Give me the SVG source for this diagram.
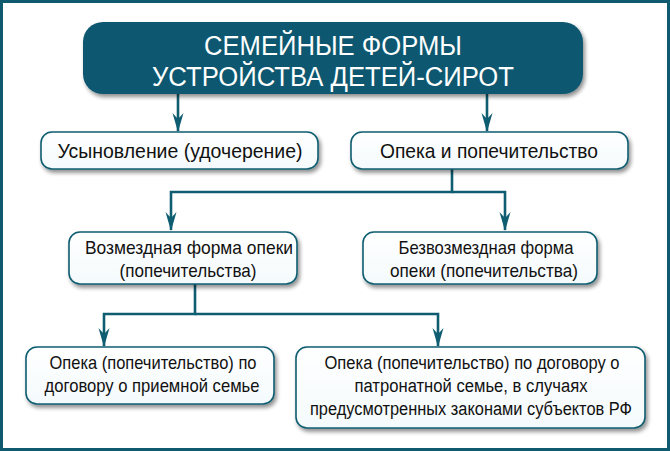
<svg xmlns="http://www.w3.org/2000/svg" width="670" height="451" viewBox="0 0 670 451">
<defs>
<filter id="sh" x="-10%" y="-20%" width="130%" height="150%">
<feGaussianBlur in="SourceAlpha" stdDeviation="2"/>
<feOffset dx="2" dy="3" result="b"/>
<feComponentTransfer><feFuncA type="linear" slope="0.45"/></feComponentTransfer>
<feMerge><feMergeNode/><feMergeNode in="SourceGraphic"/></feMerge>
</filter>
<marker id="ar" markerUnits="userSpaceOnUse" markerWidth="22" markerHeight="14" refX="20" refY="7" orient="auto" viewBox="0 0 22 14">
<path d="M21,7 L2,1.5 L8,7 L2,12.5 Z" fill="#0f5d71"/>
</marker>
<linearGradient id="bg" x1="0" y1="0" x2="0" y2="1">
<stop offset="0" stop-color="#ffffff"/>
<stop offset="1" stop-color="#f4fafc"/>
</linearGradient>
</defs>
<style>
.box{fill:url(#bg);stroke:#0f5d71;stroke-width:1.6;filter:url(#sh)}
.t{font-family:"Liberation Sans",Arial,sans-serif;font-size:19px;fill:#111;text-anchor:middle}
.s{font-size:18px}
.t1{font-family:"Liberation Sans",Arial,sans-serif;font-size:21px;fill:#111;text-anchor:middle}
.h{font-family:"Liberation Sans",Arial,sans-serif;font-size:27px;fill:#ffffff;text-anchor:middle}
.c{fill:none;stroke:#0f5d71;stroke-width:2.6}
</style>
<rect x="0" y="0" width="670" height="451" fill="#ffffff"/>
<rect x="1.5" y="1.5" width="667" height="448" fill="none" stroke="#0f5a6e" stroke-width="3"/>

<g id="connectors">
<path class="c" d="M178,94 V131" marker-end="url(#ar)"/>
<path class="c" d="M487,94 V131" marker-end="url(#ar)"/>
<path class="c" d="M452,169 V192 H171 V230" marker-end="url(#ar)"/>
<path class="c" d="M452,192 H505 V230" marker-end="url(#ar)"/>
<path class="c" d="M195,284 V314 H104 V346" marker-end="url(#ar)"/>
<path class="c" d="M195,314 H438 V346" marker-end="url(#ar)"/>
</g>

<g id="title">
<rect x="83" y="22" width="500" height="72" rx="20" fill="#0e5870" filter="url(#sh)"/>
<text class="h" x="333" y="55" textLength="258" lengthAdjust="spacingAndGlyphs">СЕМЕЙНЫЕ ФОРМЫ</text>
<text class="h" x="333" y="86" textLength="362" lengthAdjust="spacingAndGlyphs">УСТРОЙСТВА ДЕТЕЙ-СИРОТ</text>
</g>

<g id="adoption">
<rect class="box" x="41" y="132" width="277" height="37" rx="11"/>
<text class="t1" x="180" y="158" textLength="245" lengthAdjust="spacingAndGlyphs">Усыновление (удочерение)</text>
</g>

<g id="guardianship">
<rect class="box" x="351" y="132" width="277" height="37" rx="11"/>
<text class="t1" x="489" y="158" textLength="218" lengthAdjust="spacingAndGlyphs">Опека и попечительство</text>
</g>

<g id="paid">
<rect class="box" x="69" y="232" width="228" height="52" rx="11"/>
<text class="t" x="189" y="254" textLength="208" lengthAdjust="spacingAndGlyphs">Возмездная форма опеки</text>
<text class="t" x="188" y="277" textLength="137" lengthAdjust="spacingAndGlyphs">(попечительства)</text>
</g>

<g id="free">
<rect class="box" x="363" y="232" width="234" height="52" rx="11"/>
<text class="t" x="486" y="254" textLength="175" lengthAdjust="spacingAndGlyphs">Безвозмездная форма</text>
<text class="t" x="484" y="277" textLength="188" lengthAdjust="spacingAndGlyphs">опеки (попечительства)</text>
</g>

<g id="foster">
<rect class="box" x="26" y="347" width="248" height="57" rx="11"/>
<text class="t" x="153" y="369" textLength="207" lengthAdjust="spacingAndGlyphs">Опека (попечительство) по</text>
<text class="t" x="152" y="392" textLength="215" lengthAdjust="spacingAndGlyphs">договору о приемной семье</text>
</g>

<g id="patronage">
<rect class="box" x="296" y="347" width="349" height="81" rx="11"/>
<text class="t s" x="472" y="369" textLength="295" lengthAdjust="spacingAndGlyphs">Опека (попечительство) по договору о</text>
<text class="t s" x="471" y="392" textLength="233" lengthAdjust="spacingAndGlyphs">патронатной семье, в случаях</text>
<text class="t s" x="471" y="415" textLength="322" lengthAdjust="spacingAndGlyphs">предусмотренных законами субъектов РФ</text>
</g>
</svg>
